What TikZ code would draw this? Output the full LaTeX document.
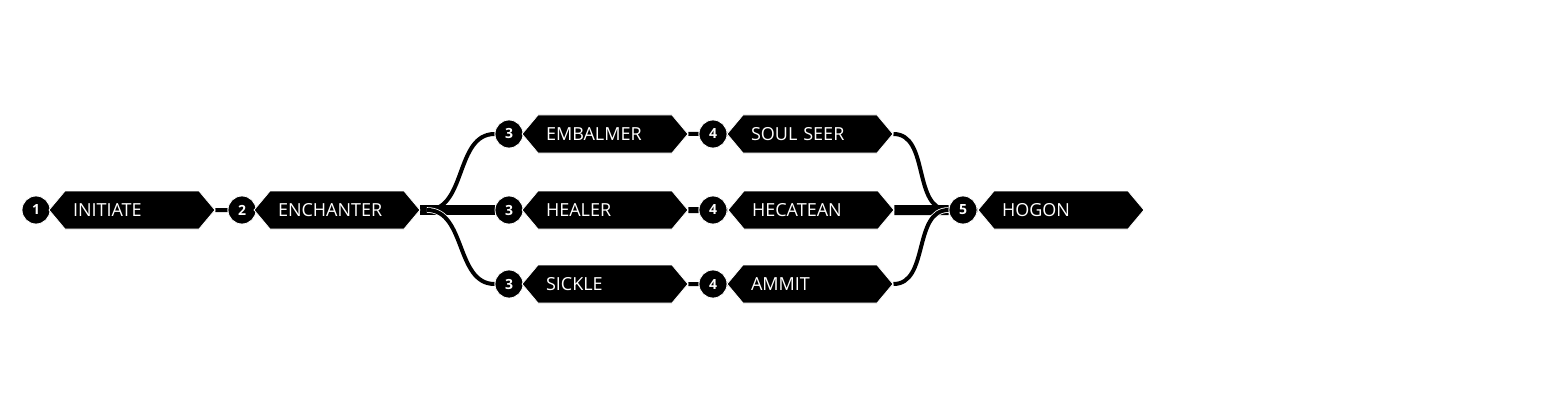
\documentclass[tikz,border=0pt]{standalone}
\usepackage{fontspec}
\setmainfont{Open Sans}
\usetikzlibrary{shapes.symbols,backgrounds}
\tikzset{
  rank/.style={circle, fill=black, draw=white, line width=0.4pt, minimum size=14pt, inner sep=0pt, text=white, font=\fontsize{7}{8}\selectfont\bfseries},
  title/.style={signal, signal to=east and west, signal pointer angle=100, fill=black, draw=white, line width=0.4pt, minimum height=19pt, text width=59pt, inner xsep=4pt, inner ysep=0pt, align=left, text=white, font=\fontsize{9}{10}\selectfont},
  link/.style={draw=white, line width=0.4pt, double=black, double distance=2pt},
  trunk/.style={draw=black, line width=5pt},
}
\begin{document}
\begin{tikzpicture}[x=0.5pt, y=-0.5pt]
\useasboundingbox (0,0) rectangle (1557,417);
% Ranks
\node[rank] (r1) at (36,210) {1};
\node[title] (t1) at (132,210) {INITIATE};
\node[rank] (r2) at (242,210) {2};
\node[title] (t2) at (337,210) {ENCHANTER};
\coordinate (split) at (427,210);
\node[rank] (r3a) at (509,134) {3};
\node[title] (t3a) at (605,134) {EMBALMER};
\node[rank] (r4a) at (713,134) {4};
\node[title] (t4a) at (810,134) {SOUL SEER};
\node[rank] (r3b) at (509,210) {3};
\node[title] (t3b) at (605,210) {HEALER};
\node[rank] (r4b) at (713,210) {4};
\node[title] (t4b) at (811,210) {HECATEAN};
\node[rank] (r3c) at (509,284) {3};
\node[title] (t3c) at (605,284) {SICKLE};
\node[rank] (r4c) at (713,284) {4};
\node[title] (t4c) at (810,284) {AMMIT};
\node[rank] (r5) at (963,210) {5};
\node[title] (t5) at (1061,210) {HOGON};
% Paths
\begin{pgfonlayer}{background}
\draw[link] (r1) -- (t1);
\draw[link] (t1) -- (r2);
\draw[link] (r2) -- (t2);
\draw[trunk] (t2.east) -- (split);
\draw[link] (split) to[out=0, in=180] (r3a);
\draw[trunk] (split) -- (r3b);
\draw[link] (split) to[out=0, in=180] (r3c);
\draw[link] (r3a) -- (t3a);
\draw[link] (t3a) -- (r4a);
\draw[link] (r4a) -- (t4a);
\draw[link] (r3b) -- (t3b);
\draw[link, double distance=3pt] (t3b) -- (r4b);
\draw[link] (r4b) -- (t4b);
\draw[link] (r3c) -- (t3c);
\draw[link] (t3c) -- (r4c);
\draw[link] (r4c) -- (t4c);
\draw[link] (t4a.east) to[out=0, in=180] (r5);
\draw[trunk] (t4b) -- (r5);
\draw[link] (t4c.east) to[out=0, in=180] (r5);
\draw[link] (r5) -- (t5);
\end{pgfonlayer}
\end{tikzpicture}
\end{document}
